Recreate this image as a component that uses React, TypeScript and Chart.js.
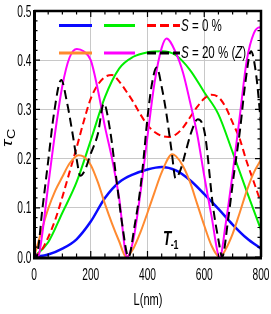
import React, { useEffect, useRef } from "react";
import { Chart, registerables } from "chart.js";

Chart.register(...registerables);

// ---------- data ----------
const X_TICKS = [0, 200, 400, 600, 800];
const X_TICK_LABELS = ["0", "200", "400", "600", "800"];
const Y_TICKS = [0, 0.1, 0.2, 0.3, 0.4, 0.5];
const Y_TICK_LABELS = ["0.0", "0.1", "0.2", "0.3", "0.4", "0.5"];
const X_TITLE = "L(nm)";
const Y_TITLE = ["τ", "C"];
const LEGEND_TEXTS = [
  ["S", " = 0 %", "", ""],
  ["S", " = 20 % (", "Z", ")"],
];
const ANNOTATION = ["T", "-1"];

const blueL = [0, 50, 100, 150, 200, 250, 300, 350, 400, 450, 500, 550, 600, 650, 700, 750, 800];
const blueT = [0, 0.005, 0.017, 0.036, 0.072, 0.12, 0.152, 0.168, 0.178, 0.183, 0.176, 0.156, 0.128, 0.098, 0.066, 0.038, 0.017];

const greenL = [0, 50, 100, 150, 200, 250, 300, 350, 400, 450, 500, 550, 600, 650, 700, 750, 800];
const greenT = [0, 0.03, 0.09, 0.152, 0.237, 0.325, 0.383, 0.407, 0.416, 0.418, 0.41, 0.38, 0.335, 0.29, 0.213, 0.133, 0.055];

const redL = [0, 25, 50, 75, 100, 125, 150, 175, 200, 225, 250, 275, 300, 325, 350, 375, 400, 425, 450, 475, 500, 525, 550, 575, 600, 625, 650, 675, 700, 725, 750, 775, 800];
const redT = [0, 0.012, 0.04, 0.076, 0.122, 0.172, 0.222, 0.275, 0.322, 0.35, 0.366, 0.37, 0.357, 0.337, 0.315, 0.29, 0.268, 0.254, 0.246, 0.244, 0.249, 0.263, 0.284, 0.305, 0.322, 0.33, 0.325, 0.305, 0.273, 0.24, 0.193, 0.152, 0.11];

const orangeL = [0, 25, 50, 75, 100, 125, 157, 175, 200, 225, 250, 275, 300, 325, 350, 375, 400, 425, 450, 487, 500, 525, 550, 575, 600, 625, 655, 675, 700, 725, 750, 775, 800];
const orangeT = [0, 0.05, 0.098, 0.135, 0.163, 0.19, 0.207, 0.204, 0.187, 0.152, 0.108, 0.068, 0.032, 0, 0.017, 0.05, 0.09, 0.132, 0.172, 0.209, 0.205, 0.185, 0.152, 0.108, 0.064, 0.024, 0, 0.015, 0.047, 0.09, 0.135, 0.172, 0.198];

const magentaL = [0, 15, 25, 50, 75, 100, 125, 151, 175, 200, 225, 250, 275, 300, 328, 350, 375, 400, 425, 450, 467, 500, 525, 550, 575, 600, 625, 655, 675, 700, 725, 750, 775, 796, 800];
const magentaT = [0.012, 0, 0.03, 0.145, 0.255, 0.348, 0.405, 0.423, 0.418, 0.4, 0.34, 0.265, 0.2, 0.12, 0, 0.035, 0.13, 0.245, 0.355, 0.425, 0.444, 0.415, 0.375, 0.315, 0.25, 0.165, 0.085, 0, 0.065, 0.17, 0.285, 0.4, 0.455, 0.467, 0.466];

const blackL = [0, 8, 30, 50, 70, 96, 116, 137, 150, 163, 178, 200, 225, 246, 268, 290, 310, 333, 355, 375, 387, 399, 415, 432, 452, 467, 485, 499, 515, 535, 555, 577, 602, 631, 650, 663, 685, 705, 726, 745, 765, 783, 800];
const blackT = [0.01, 0, 0.1, 0.195, 0.29, 0.36, 0.315, 0.247, 0.2, 0.165, 0.175, 0.21, 0.25, 0.312, 0.258, 0.16, 0.07, 0, 0.065, 0.14, 0.205, 0.278, 0.35, 0.385, 0.34, 0.29, 0.215, 0.16, 0.175, 0.215, 0.255, 0.28, 0.251, 0.102, 0.035, 0, 0.08, 0.17, 0.258, 0.355, 0.418, 0.37, 0.27];

// ---------- styles ----------
const BLUE = "#0a0aff";
const GREEN = "#00ee00";
const RED = "#ff0000";
const ORANGE = "#ff8a30";
const MAGENTA = "#ff00ff";
const BLACK = "#000000";
const FONT = '"Liberation Sans", Arial, Helvetica, sans-serif';
const RED_DASH = [7, 4];
const BLACK_DASH = [9, 5];

function pts(xs: number[], ys: number[]) {
  return xs.map((x, i) => ({ x, y: ys[i] }));
}

function drawText(
  ctx: CanvasRenderingContext2D,
  s: string,
  x: number,
  y: number,
  font: string,
  sx: number,
  align: CanvasTextAlign
) {
  ctx.save();
  ctx.font = font;
  ctx.translate(x, y);
  ctx.scale(sx, 1);
  ctx.textAlign = align;
  ctx.textBaseline = "middle";
  ctx.fillStyle = "#000";
  ctx.fillText(s, 0, 0);
  ctx.restore();
}

function legendLine(ctx: CanvasRenderingContext2D, x0: number, x1: number, y: number, color: string, dash: number[]) {
  ctx.save();
  ctx.strokeStyle = color;
  ctx.lineWidth = 3;
  ctx.setLineDash(dash);
  ctx.beginPath();
  ctx.moveTo(x0, y);
  ctx.lineTo(x1, y);
  ctx.stroke();
  ctx.restore();
}

const decor = {
  id: "decor",
  afterDraw(chart: any) {
    const ctx: CanvasRenderingContext2D = chart.ctx;
    const { left, right, top, bottom } = chart.chartArea;
    const xs = chart.scales.x;
    const ys = chart.scales.y;

    ctx.save();
    ctx.strokeStyle = "#000";
    // frame
    ctx.lineWidth = 2.5;
    ctx.beginPath();
    ctx.moveTo(left, top);
    ctx.lineTo(right, top);
    ctx.lineTo(right, bottom);
    ctx.stroke();
    ctx.lineWidth = 3;
    ctx.beginPath();
    ctx.moveTo(left + 0.5, top - 1);
    ctx.lineTo(left + 0.5, bottom + 1.5);
    ctx.moveTo(left - 1, bottom + 1);
    ctx.lineTo(right + 1, bottom + 1);
    ctx.stroke();
    // minor ticks
    ctx.lineWidth = 1.2;
    ctx.beginPath();
    for (let v = 0; v <= 800; v += 50) {
      const px = xs.getPixelForValue(v);
      const len = v % 200 === 0 ? 6 : 3.5;
      ctx.moveTo(px, bottom);
      ctx.lineTo(px, bottom - len);
      ctx.moveTo(px, top);
      ctx.lineTo(px, top + len);
    }
    for (let k = 0; k <= 25; k++) {
      const v = k * 0.02;
      const py = ys.getPixelForValue(v);
      const len = k % 5 === 0 ? 6 : 3.5;
      ctx.moveTo(left, py);
      ctx.lineTo(left + len, py);
      ctx.moveTo(right, py);
      ctx.lineTo(right - len, py);
    }
    ctx.stroke();
    ctx.restore();

    // tick labels
    const tickFont = `17px ${FONT}`;
    Y_TICKS.forEach((v, i) => {
      drawText(ctx, Y_TICK_LABELS[i], left - 2.5, ys.getPixelForValue(v) + 1, tickFont, 0.6, "right");
    });
    X_TICKS.forEach((v, i) => {
      drawText(ctx, X_TICK_LABELS[i], xs.getPixelForValue(v), 275, tickFont, 0.6, "center");
    });

    // axis titles
    drawText(ctx, X_TITLE, (left + right) / 2 + 0.5, 300, `17px ${FONT}`, 0.65, "center");
    ctx.save();
    ctx.translate(12, 147);
    ctx.rotate(-Math.PI / 2);
    ctx.scale(1.3, 1);
    ctx.fillStyle = "#000";
    ctx.textBaseline = "alphabetic";
    ctx.textAlign = "left";
    ctx.font = `italic 15px ${FONT}`;
    ctx.fillText(Y_TITLE[0], 0, 0);
    const tw = ctx.measureText(Y_TITLE[0]).width;
    ctx.font = `11px ${FONT}`;
    ctx.fillText(Y_TITLE[1], tw + 0.5, 3);
    ctx.restore();

    // legend
    const rowY = [25.5, 53];
    legendLine(ctx, 59, 92, rowY[0], BLUE, []);
    legendLine(ctx, 104, 135, rowY[0], GREEN, []);
    legendLine(ctx, 147, 180, rowY[0], RED, [9, 4]);
    legendLine(ctx, 59, 92, rowY[1], ORANGE, []);
    legendLine(ctx, 104, 135, rowY[1], MAGENTA, []);
    legendLine(ctx, 147, 180, rowY[1], BLACK, [9, 4]);
    LEGEND_TEXTS.forEach((parts, r) => {
      ctx.save();
      ctx.translate(181, rowY[r] + 0.5);
      ctx.scale(0.68, 1);
      ctx.textBaseline = "middle";
      ctx.textAlign = "left";
      ctx.fillStyle = "#000";
      let x = 0;
      parts.forEach((p, j) => {
        if (!p) return;
        ctx.font = (j % 2 === 0 ? "italic " : "") + `17px ${FONT}`;
        ctx.fillText(p, x, 0);
        x += ctx.measureText(p).width;
      });
      ctx.restore();
    });

    // annotation T_-1
    ctx.save();
    ctx.fillStyle = "#000";
    ctx.textBaseline = "alphabetic";
    ctx.textAlign = "left";
    ctx.translate(163, 245);
    ctx.scale(0.68, 1);
    ctx.font = `italic bold 20px ${FONT}`;
    ctx.fillText(ANNOTATION[0], 0, 0);
    const aw = ctx.measureText(ANNOTATION[0]).width;
    ctx.font = `bold 13px ${FONT}`;
    ctx.fillText(ANNOTATION[1], aw - 1, 4);
    ctx.restore();
  },
};

export default function App() {
  const ref = useRef<HTMLCanvasElement>(null);
  useEffect(() => {
    const canvas = ref.current!;
    const common = { pointRadius: 0, borderWidth: 2, cubicInterpolationMode: "monotone" as const, fill: false };
    const chart = new Chart(canvas, {
      type: "line",
      data: {
        datasets: [
          { ...common, label: "black", data: pts(blackL, blackT), borderColor: BLACK, borderDash: BLACK_DASH },
          { ...common, label: "magenta", data: pts(magentaL, magentaT), borderColor: MAGENTA },
          { ...common, label: "orange", data: pts(orangeL, orangeT), borderColor: ORANGE },
          { ...common, label: "red", data: pts(redL, redT), borderColor: RED, borderDash: RED_DASH },
          { ...common, label: "green", data: pts(greenL, greenT), borderColor: GREEN },
          { ...common, label: "blue", data: pts(blueL, blueT), borderColor: BLUE, borderWidth: 2.5 },
        ],
      },
      options: {
        responsive: false,
        animation: false,
        devicePixelRatio: 1,
        layout: { padding: { left: 34, right: 10, top: 11, bottom: 57 } },
        plugins: { legend: { display: false }, tooltip: { enabled: false }, title: { display: false } },
        scales: {
          x: {
            type: "linear",
            min: 0,
            max: 800,
            afterFit: (s: any) => {
              s.height = 0;
            },
            border: { display: false },
            grid: { color: "#c8c8c8", lineWidth: 1, drawTicks: false },
            ticks: { display: false, stepSize: 200 },
          },
          y: {
            type: "linear",
            min: 0,
            max: 0.5,
            afterFit: (s: any) => {
              s.width = 0;
            },
            border: { display: false },
            grid: { color: "#c8c8c8", lineWidth: 1, drawTicks: false },
            ticks: { display: false, stepSize: 0.1 },
          },
        },
      },
      plugins: [decor],
    });
    return () => chart.destroy();
  }, []);
  return (
    <div style={{ position: "fixed", left: 0, top: 0, width: 271, height: 314, background: "#fff" }}>
      <canvas ref={ref} width={271} height={314} style={{ width: 271, height: 314, display: "block" }} />
    </div>
  );
}
